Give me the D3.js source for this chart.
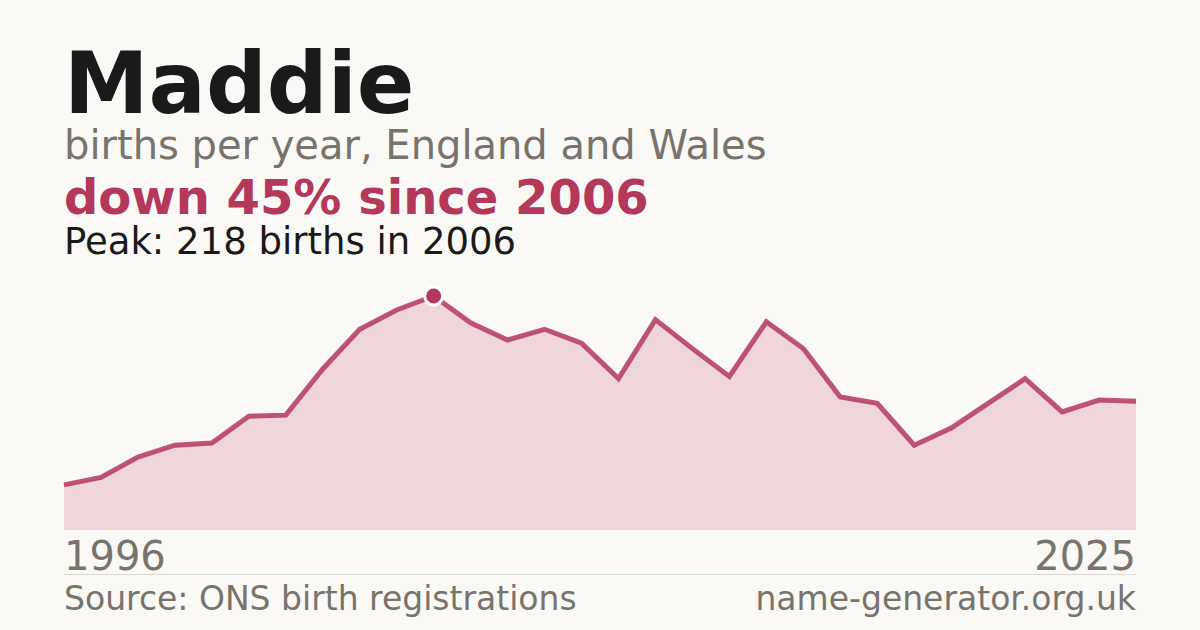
<!DOCTYPE html>
<html>
<head>
<meta charset="utf-8">
<script src="https://cdn.jsdelivr.net/npm/d3@7"></script>
<style>
  html, body { margin: 0; padding: 0; background: #faf9f5; }
  svg { display: block; font-family: "DejaVu Sans", sans-serif; }
</style>
</head>
<body>
<svg id="chart"></svg>
<script>
'use strict';

const WIDTH = 1200;
const HEIGHT = 630;
const RED = "#b3385a";

// births per year
var years = d3.range(1996, 2026);
var births = [42, 49, 68, 79, 81, 106, 107, 150, 187, 205,
              218, 193, 177, 187, 174, 141, 196, 169, 143, 194,
              169, 124, 118, 79, 95, 118, 141, 110, 121, 120];

var titleText = "Maddie";
var subtitleText = "births per year, England and Wales";
var peakIndex = births.indexOf(d3.max(births));
var changePct = Math.round((1 - births[births.length - 1] / births[peakIndex]) * 100);

var data = years.map(function (y, i) {
    return {year: y, value: births[i]};
});

var svg = d3.select("#chart")
    .attr("width", WIDTH)
    .attr("height", HEIGHT);

svg.append("rect")
    .attr("width", WIDTH)
    .attr("height", HEIGHT)
    .attr("fill", "#faf9f5");

// headline texts
svg.append("text")
    .attr("x", 64).attr("y", 113)
    .attr("font-size", 85).attr("font-weight", "bold")
    .attr("fill", "#1a1a1a")
    .text(titleText);

svg.append("text")
    .attr("x", 64).attr("y", 159)
    .attr("font-size", 40)
    .attr("fill", "#78736c")
    .text(subtitleText);

svg.append("text")
    .attr("x", 64).attr("y", 214)
    .attr("font-size", 48).attr("font-weight", "bold")
    .attr("fill", RED)
    .text("down " + changePct + "% since " + years[peakIndex]);

svg.append("text")
    .attr("x", 64).attr("y", 254)
    .attr("font-size", 37)
    .attr("fill", "#1a1a1a")
    .text("Peak: " + births[peakIndex] + " births in " + years[peakIndex]);

// scales
var x = d3.scaleLinear()
    .domain(d3.extent(years))
    .range([64, 1136]);

var y = d3.scaleLinear()
    .domain([0, d3.max(births)])
    .range([530, 296]);

var area = d3.area()
    .x(function (d) { return x(d.year); })
    .y0(y(0))
    .y1(function (d) { return y(d.value); });

var line = d3.line()
    .x(function (d) { return x(d.year); })
    .y(function (d) { return y(d.value); });

svg.append("path")
    .datum(data)
    .attr("d", area)
    .attr("fill", "#f0d5da");

svg.append("path")
    .datum(data)
    .attr("d", line)
    .attr("fill", "none")
    .attr("stroke", RED)
    .attr("stroke-opacity", 0.85)
    .attr("stroke-width", 5)
    .attr("stroke-linejoin", "miter");

// peak marker
svg.append("circle")
    .attr("cx", x(years[peakIndex]))
    .attr("cy", y(births[peakIndex]))
    .attr("r", 9)
    .attr("fill", RED)
    .attr("stroke", "#ffffff")
    .attr("stroke-width", 3);

// end year labels
svg.append("text")
    .attr("x", x(years[0])).attr("y", 570)
    .attr("font-size", 40)
    .attr("fill", "#78736c")
    .text(years[0]);

svg.append("text")
    .attr("x", x(years[years.length - 1])).attr("y", 570)
    .attr("text-anchor", "end")
    .attr("font-size", 40)
    .attr("fill", "#78736c")
    .text(years[years.length - 1]);

svg.append("line")
    .attr("x1", 64).attr("x2", 1136)
    .attr("y1", 574.5).attr("y2", 574.5)
    .attr("stroke", "#dedad3")
    .attr("stroke-width", 1);

// footer
svg.append("text")
    .attr("x", 64).attr("y", 610)
    .attr("font-size", 33)
    .attr("fill", "#78736c")
    .text("Source: ONS birth registrations");

svg.append("text")
    .attr("x", 1136).attr("y", 610)
    .attr("text-anchor", "end")
    .attr("font-size", 33)
    .attr("fill", "#78736c")
    .text("name-generator.org.uk");
</script>
</body>
</html>
